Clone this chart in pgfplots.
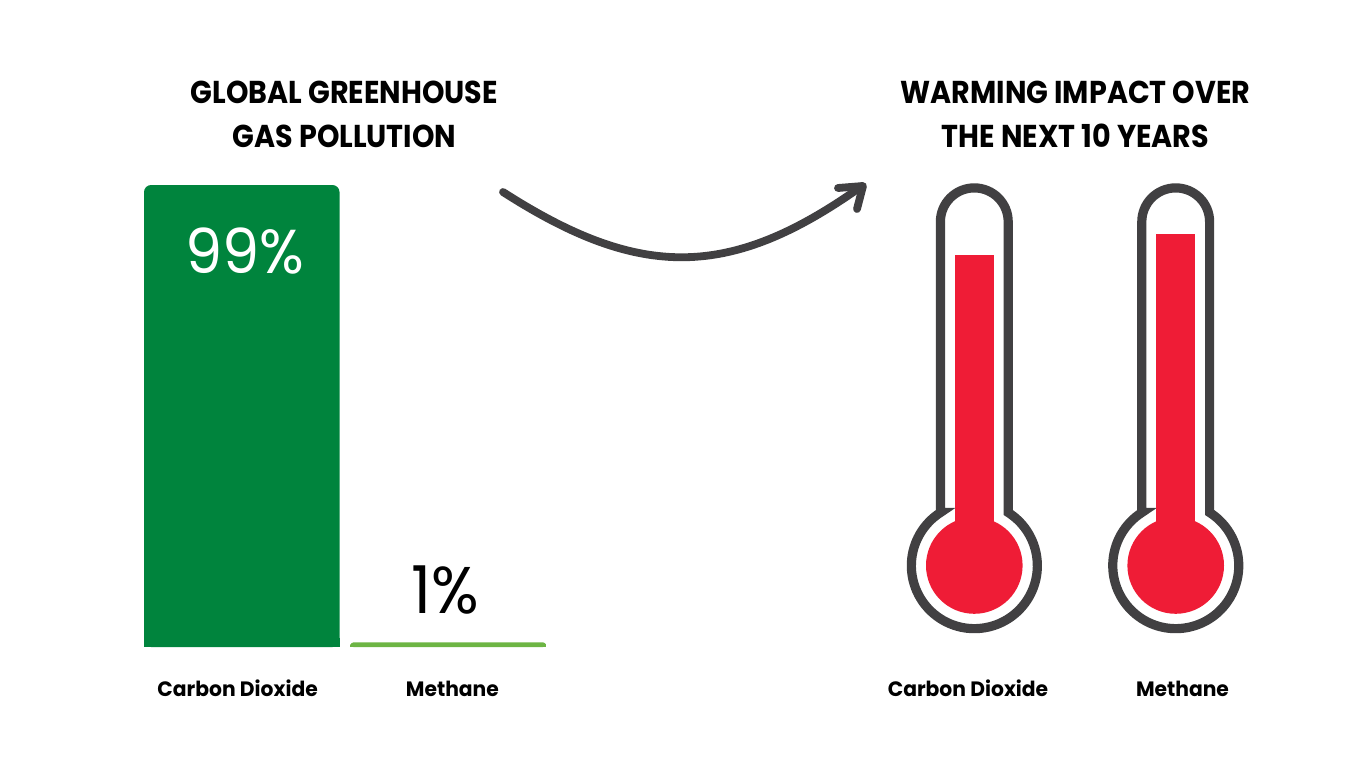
\documentclass[border=0pt]{standalone}
\usepackage{pgfplots}
\pgfplotsset{compat=1.18}
\usepackage{fontspec}
\setmainfont{Poppins}
\newfontfamily\headfont[UprightFont=* Bold,FakeStretch=0.905]{Poppins}
\newfontfamily\lblfont[UprightFont=* Bold,FakeStretch=0.975]{Poppins}
\newfontfamily\numfont[FakeStretch=0.95]{Poppins}
\definecolor{co2green}{HTML}{00843D}
\definecolor{ch4green}{HTML}{6DB544}
\definecolor{hotred}{HTML}{EF1C36}
\definecolor{inkgrey}{HTML}{414042}
\newcommand{\titlefont}{\headfont\fontsize{15.8}{15.8}\selectfont}
\newcommand{\labelfont}{\lblfont\fontsize{10.4}{10.4}\selectfont}
\pgfplotsset{
	plain chart/.style={
		scale only axis,
		anchor=south west,
		axis y line=none,
		axis x line=bottom,
		x axis line style={draw=none},
		ytick=\empty,
		major tick length=0pt,
		tick style={draw=none},
		xticklabel style={font=\labelfont,anchor=base,yshift=-24.5pt},
		clip=false,
	},
}
\begin{document}
\begin{tikzpicture}[x=0.5pt,y=0.5pt]
\useasboundingbox (0,0) rectangle (1366,768);

% left: share of pollution (y = percent, 462px for 99)
\begin{axis}[plain chart,
	at={(72pt,60.5pt)},
	width=201pt, height=231pt,
	xmin=-0.4734, xmax=1.4734,
	ymin=0, ymax=99,
	xtick={-0.02,1.02},
	xticklabels={Carbon Dioxide,Methane},
	ybar, bar width=97.75pt, bar shift=0pt,
]
\addplot[fill=co2green,draw=none,rounded corners=3.5pt,
	nodes near coords={\numfont\fontsize{31}{31}\selectfont\textcolor{white}{99\%}},
	nodes near coords align={below},
	every node near coord/.append style={xshift=1.5pt,yshift=-18pt}]
	coordinates {(0,99)};
\addplot[fill=co2green,draw=none] coordinates {(0,2)};
\addplot[fill=ch4green,draw=none,rounded corners=1.5pt,
	nodes near coords={\numfont\fontsize{33}{33}\selectfont\textcolor{black}{1\%}},
	nodes near coords align={above},
	every node near coord/.append style={xshift=-1.5pt,yshift=10.5pt}]
	coordinates {(1,1)};
\addplot[fill=ch4green,draw=none] coordinates {(1,0.5)};
\end{axis}

% right: thermometers
\foreach \cx in {974.3,1175.7}{
	\draw[inkgrey,line width=4.6pt,line join=miter]
		(\cx-33.9,255.5) -- (\cx-33.9,546.2) arc[start angle=180,end angle=0,radius=33.9]
		-- (\cx+33.9,255.5) arc[start angle=57.5,end angle=-237.5,radius=63] -- cycle;
	\fill[hotred] (\cx,202.5) circle[radius=48.3];
}
\begin{axis}[plain chart,
	at={(447pt,60.5pt)},
	width=203pt, height=231pt,
	xmin=894, xmax=1300,
	ymin=-81.5, ymax=380.5,
	xtick={968,1182.5},
	xticklabels={Carbon Dioxide,Methane},
	ybar, bar width=19.4pt, bar shift=0pt,
]
\addplot[fill=hotred,draw=none] coordinates {(974.3,310.2)};
\addplot[fill=hotred,draw=none] coordinates {(1175.7,331.5)};
\end{axis}

% arrow
\draw[inkgrey,line width=3.9pt,line cap=round,line join=round]
	(503,576) .. controls (640,488) and (730,488) .. (862,582);
\draw[inkgrey,line width=3.9pt,line cap=round,line join=round]
	(838,580) -- (863,582) -- (857,559);

% titles
\node[font=\titlefont,align=center] at (344.5,653.5) {GLOBAL GREENHOUSE\\[6.5pt]GAS POLLUTION};
\node[font=\titlefont,align=center] at (1075.5,653.5) {WARMING IMPACT OVER\\[6.5pt]THE NEXT 10 YEARS};
\end{tikzpicture}
\end{document}
